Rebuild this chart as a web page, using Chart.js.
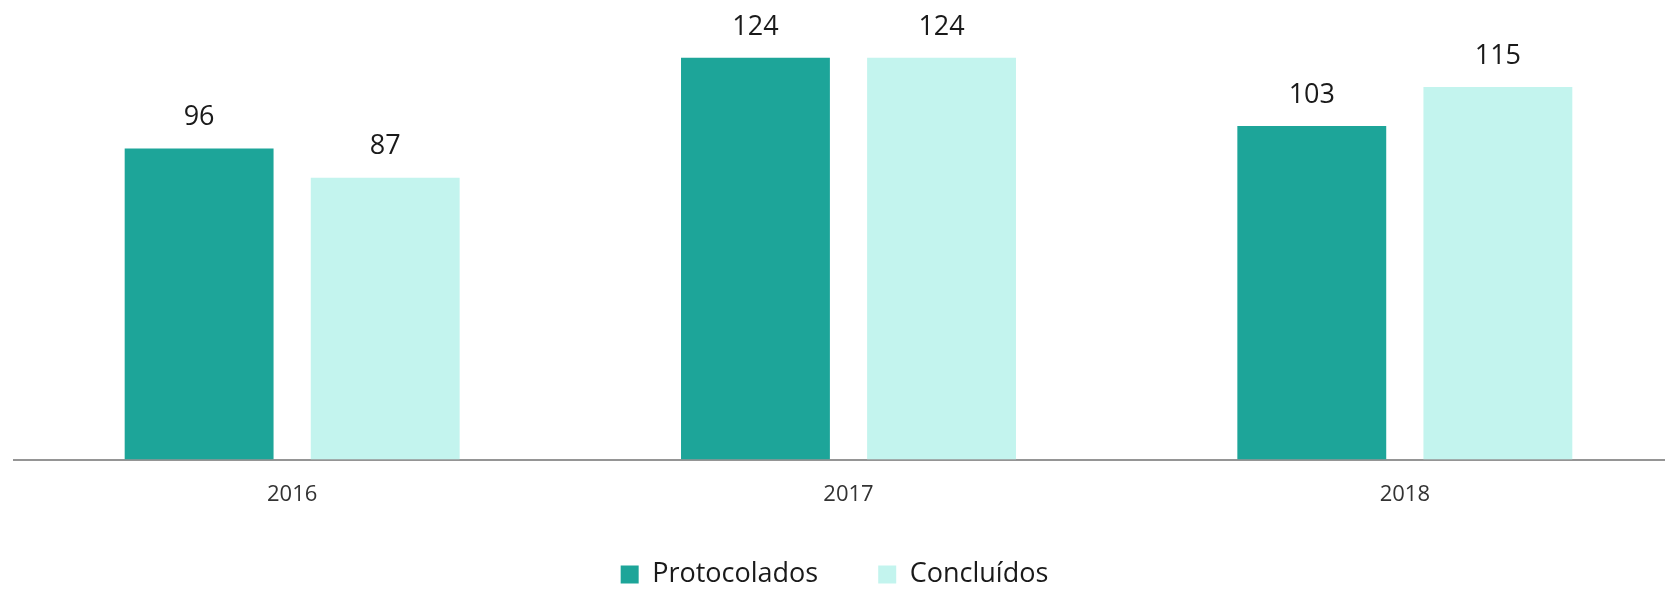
<!DOCTYPE html>
<html>
<head>
<meta charset="utf-8">
<script src="https://cdn.jsdelivr.net/npm/chart.js@4/dist/chart.umd.min.js"></script>
<style>
    html, body { margin: 0; padding: 0; background: #fff; overflow: hidden; }
    #wrap { position: relative; width: 1683px; height: 589px; }
</style>
</head>
<body>
<div id="wrap"><canvas id="chartAnos"></canvas></div>
<script>
var anos         = ['2016', '2017', '2018'];
var protocolados = [96, 124, 103];
var concluidos   = [87, 124, 115];
var serieNomes   = ['Protocolados', 'Concluídos'];
var serieColors  = ['#1da599', '#c3f4ee'];
var fonte        = '"Open Sans", "Noto Sans", sans-serif';

// ── Rótulos de valor acima das barras ───────────────────────────────────────
var rotulosPlugin = {
    id: 'rotulos',
    afterDatasetsDraw: function (chart) {
        var ctx = chart.ctx;
        ctx.save();
        ctx.font = '27px ' + fonte;
        ctx.fillStyle = '#1a1a1a';
        ctx.textAlign = 'center';
        ctx.textBaseline = 'middle';
        chart.data.datasets.forEach(function (ds, i) {
            chart.getDatasetMeta(i).data.forEach(function (bar, j) {
                ctx.fillText(String(ds.data[j]), bar.x, bar.y - 31);
            });
        });
        ctx.restore();
    }
};

// legenda padrão, com mais espaço entre os itens (e puxada um pouco à esquerda)
function legendaLabels(chart) {
    var itens = Chart.defaults.plugins.legend.labels.generateLabels(chart);
    if (itens.length > 1) {
        itens[0].text = itens[0].text + '   ';
        itens[1].text = itens[1].text + '    ';
    }
    return itens;
}

// ── Gráfico de barras ───────────────────────────────────────────────────────
new Chart(document.getElementById('chartAnos'), {
    type: 'bar',
    data: {
        labels: anos,
        datasets: [
            { label: serieNomes[0], data: protocolados, backgroundColor: serieColors[0] },
            { label: serieNomes[1], data: concluidos,   backgroundColor: serieColors[1] }
        ]
    },
    options: {
        responsive: true,
        maintainAspectRatio: false,
        animation: false,
        datasets: { bar: { categoryPercentage: 0.669, barPercentage: 0.80 } },
        layout: { padding: { top: 6, left: 14, right: 0, bottom: -9 } },
        plugins: {
            legend: {
                position: 'bottom',
                labels: {
                    font: { family: fonte, size: 27 },
                    color: '#1a1a1a',
                    boxWidth: 18,
                    boxHeight: 18,
                    padding: 39,
                    generateLabels: legendaLabels
                }
            },
            tooltip: { enabled: false }
        },
        scales: {
            x: {
                grid: { display: false },
                border: { display: true, color: '#959595', width: 2 },
                ticks: { font: { family: fonte, size: 22 }, color: '#333', padding: 14 }
            },
            y: { display: false, min: 0, max: 140 }
        }
    },
    plugins: [rotulosPlugin]
});
</script>
</body>
</html>
